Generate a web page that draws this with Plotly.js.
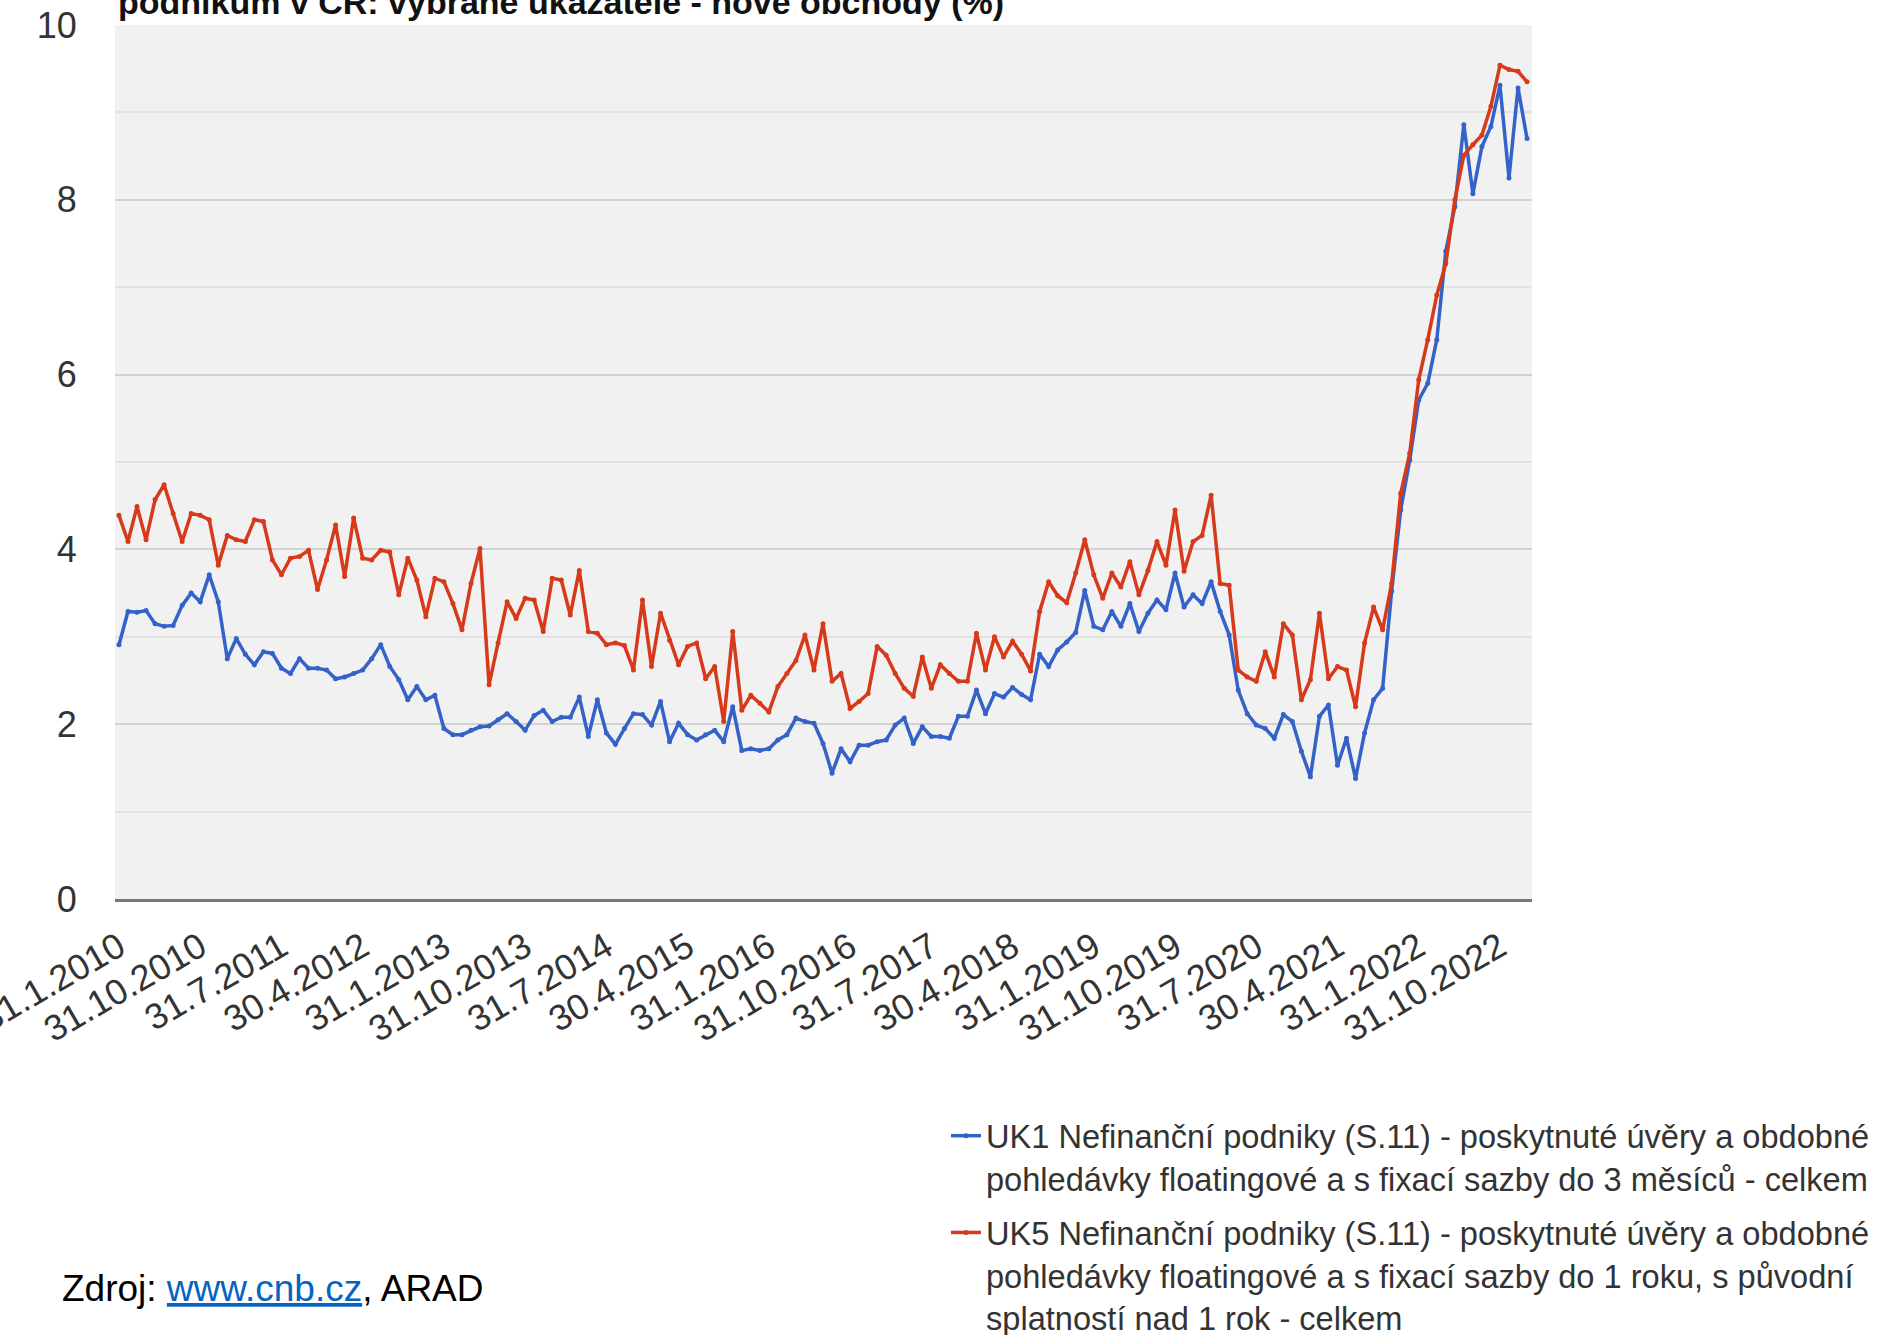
<!DOCTYPE html>
<html>
<head>
<meta charset="utf-8">
<script src="https://cdn.plot.ly/plotly-3.0.1.min.js"></script>
<style>
  html, body { margin: 0; padding: 0; background: #ffffff; }
  #chart { width: 1881px; height: 1335px; }
</style>
</head>
<body>
<div id="chart"></div>
<script>
// UK1 – loans floating and fixed up to 3 months (%), monthly Jan 2010 – Jan 2023
const uk1 = [2.91,3.29,3.28,3.30,3.15,3.12,3.13,3.36,3.50,3.40,
  3.71,3.40,2.75,2.98,2.80,2.68,2.83,2.81,2.64,2.58,
  2.75,2.64,2.64,2.62,2.52,2.54,2.58,2.62,2.75,2.91,
  2.66,2.51,2.28,2.43,2.28,2.33,1.95,1.88,1.88,1.93,
  1.97,1.98,2.05,2.12,2.03,1.93,2.10,2.16,2.03,2.08,
  2.08,2.31,1.86,2.28,1.90,1.77,1.95,2.12,2.11,1.99,
  2.26,1.80,2.01,1.88,1.82,1.88,1.93,1.80,2.20,1.70,
  1.72,1.70,1.72,1.82,1.88,2.07,2.03,2.01,1.78,1.44,
  1.72,1.57,1.76,1.76,1.80,1.82,1.99,2.07,1.78,1.97,
  1.86,1.86,1.84,2.09,2.09,2.39,2.12,2.35,2.31,2.42,
  2.34,2.28,2.80,2.66,2.85,2.94,3.05,3.53,3.12,3.08,
  3.29,3.12,3.38,3.06,3.27,3.42,3.31,3.73,3.34,3.48,
  3.38,3.63,3.29,3.02,2.39,2.12,1.99,1.95,1.84,2.11,
  2.03,1.69,1.40,2.09,2.22,1.53,1.84,1.38,1.90,2.28,
  2.41,3.52,4.45,5.02,5.71,5.90,6.40,7.41,7.92,8.86,
  8.07,8.61,8.84,9.31,8.25,9.28,8.70];

// UK5 – loans floating and fixed up to 1 year, original maturity over 1 year (%)
const uk5 = [4.39,4.09,4.49,4.11,4.57,4.74,4.41,4.09,4.41,4.39,
  4.34,3.82,4.16,4.11,4.09,4.34,4.32,3.88,3.71,3.90,
  3.92,3.99,3.54,3.88,4.28,3.69,4.36,3.90,3.88,3.99,
  3.97,3.48,3.90,3.65,3.23,3.67,3.63,3.38,3.08,3.61,
  4.01,2.45,2.93,3.40,3.21,3.44,3.42,3.06,3.67,3.65,
  3.25,3.76,3.06,3.04,2.91,2.93,2.90,2.62,3.42,2.66,
  3.27,2.96,2.68,2.89,2.93,2.52,2.66,2.03,3.06,2.16,
  2.33,2.24,2.14,2.43,2.58,2.73,3.02,2.62,3.15,2.49,
  2.58,2.18,2.26,2.35,2.89,2.79,2.58,2.41,2.32,2.77,
  2.41,2.68,2.58,2.49,2.49,3.04,2.62,3.00,2.77,2.95,
  2.80,2.61,3.29,3.63,3.47,3.39,3.73,4.11,3.71,3.44,
  3.73,3.57,3.86,3.48,3.76,4.09,3.82,4.45,3.75,4.09,
  4.16,4.62,3.61,3.59,2.62,2.54,2.49,2.83,2.54,3.15,
  3.02,2.28,2.51,3.27,2.52,2.66,2.62,2.20,2.93,3.34,
  3.08,3.61,4.64,5.10,5.94,6.40,6.91,7.27,8.00,8.51,
  8.63,8.74,9.07,9.54,9.49,9.47,9.35];

const tickLabels = ['31.1.2010','31.10.2010','31.7.2011','30.4.2012','31.1.2013',
  '31.10.2013','31.7.2014','30.4.2015','31.1.2016','31.10.2016','31.7.2017',
  '30.4.2018','31.1.2019','31.10.2019','31.7.2020','30.4.2021','31.1.2022','31.10.2022'];

const yTicks = [0, 2, 4, 6, 8, 10];

const seriesNames = [
  'UK1 Nefinanční podniky (S.11) - poskytnuté úvěry a obdobné<br>pohledávky floatingové a s fixací sazby do 3 měsíců - celkem',
  'UK5 Nefinanční podniky (S.11) - poskytnuté úvěry a obdobné<br>pohledávky floatingové a s fixací sazby do 1 roku, s původní<br>splatností nad 1 rok - celkem'
];

const titleText = 'podnikům v ČR: vybrané ukazatele - nové obchody (%)';
const sourceText = 'Zdroj: <span style="color:#0563c1;text-decoration:underline">www.cnb.cz</span>, ARAD';

// month-end category labels (D.M.YYYY), starting January 2010
const startYear = 2010;
const categories = uk1.map((_, i) => {
  const y = startYear + Math.floor(i / 12);
  const m = (i % 12) + 1;
  const d = new Date(Date.UTC(y, m, 0)).getUTCDate();
  return d + '.' + m + '.' + y;
});

const FONT = 'Liberation Sans, Arial, Helvetica, sans-serif';
const W = 1881, H = 1335;
const L = 115, R = 1532, T = 25, B = 899;
const px2x = p => (p - L) / (R - L);
const px2y = p => (B - p) / (B - T);

const traces = [
  { x: categories, y: uk1, name: seriesNames[0], legendgroup: 'uk1', type: 'scatter', mode: 'lines+markers',
    line: { color: '#3562c8', width: 3.5 }, marker: { color: '#3562c8', size: 5 } },
  { x: categories, y: uk5, name: seriesNames[1], legendgroup: 'uk5', type: 'scatter', mode: 'lines+markers',
    line: { color: '#d63a1a', width: 3.5 }, marker: { color: '#d63a1a', size: 5 } }
];

const layout = {
  width: W, height: H,
  margin: { l: L, r: W - R, t: T, b: H - B, autoexpand: false },
  paper_bgcolor: '#ffffff',
  plot_bgcolor: '#f1f1f1',
  font: { family: FONT, color: '#333333' },
  showlegend: true,
  legend: {
    x: px2x(946), y: px2y(1108), xanchor: 'left', yanchor: 'top',
    font: { family: FONT, size: 32.6, color: '#333333' },
    bgcolor: 'rgba(0,0,0,0)', valign: 'top',
    traceorder: 'grouped', tracegroupgap: 9
  },
  xaxis: {
    type: 'category',
    range: [-0.44, uk1.length - 1 + 0.55],
    tickmode: 'array', tickvals: tickLabels, ticktext: tickLabels,
    tickangle: -30,
    tickfont: { family: FONT, size: 36, color: '#333333' },
    ticks: 'outside', ticklen: 10, tickcolor: 'rgba(0,0,0,0)',
    showgrid: false, zeroline: false,
    showline: true, linecolor: '#777777', linewidth: 3
  },
  yaxis: {
    range: [0, 10],
    tickmode: 'array', tickvals: yTicks,
    tickfont: { family: FONT, size: 36, color: '#333333' },
    ticks: 'outside', ticklen: 30, tickcolor: 'rgba(0,0,0,0)',
    showgrid: true, gridcolor: '#d2d2d2', gridwidth: 2,
    minor: { dtick: 1, tick0: 0, showgrid: true, gridcolor: '#e2e2e2', gridwidth: 2, ticks: '' },
    zeroline: false, showline: false
  },
  annotations: [
    { text: '<b>' + titleText + '</b>', xref: 'paper', yref: 'paper',
      x: px2x(116), y: px2y(23), xanchor: 'left', yanchor: 'bottom', showarrow: false,
      font: { family: FONT, size: 34, color: '#111111' } },
    { text: sourceText, xref: 'paper', yref: 'paper',
      x: px2x(60), y: px2y(1311), xanchor: 'left', yanchor: 'bottom', showarrow: false,
      font: { family: FONT, size: 37, color: '#000000' } }
  ]
};

Plotly.newPlot('chart', traces, layout, { staticPlot: true, displayModeBar: false });
</script>
</body>
</html>
